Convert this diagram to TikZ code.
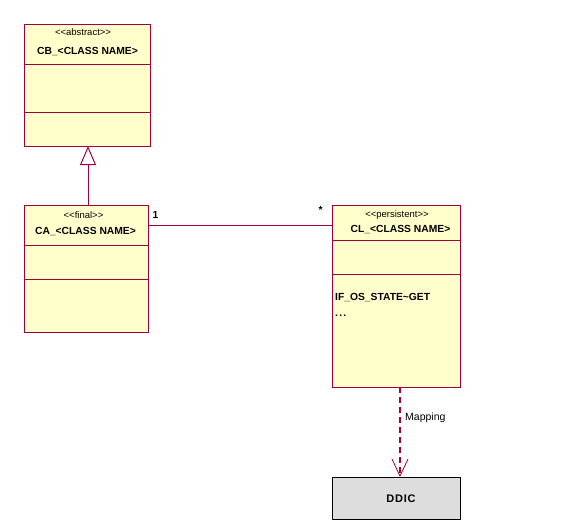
\documentclass[tikz,border=0pt]{standalone}
\usepackage{fontspec}
\setmainfont[Ligatures={TeXOff,NoCommon}]{Liberation Sans}
\usetikzlibrary{arrows.meta}
\definecolor{umlred}{RGB}{160,0,64}
\definecolor{umlfill}{RGB}{255,255,204}
\definecolor{ddicgray}{RGB}{221,221,221}
\begin{document}
\begin{tikzpicture}[x=1pt,y=-1pt,
  classbox/.style={draw=umlred,fill=umlfill,line width=1pt,anchor=north west,inner sep=0pt,minimum width=126pt},
  comp/.style={draw=umlred,line width=1pt},
  stereo/.style={font=\fontsize{9.5}{11}\selectfont,inner sep=0pt},
  cname/.style={font=\fontsize{10.3}{12}\selectfont\bfseries,inner sep=0pt},
  plain/.style={font=\fontsize{10.5}{12}\selectfont,inner sep=0pt},
  assoc/.style={draw=umlred,line width=1pt},
  ddicbox/.style={draw=black,fill=ddicgray,line width=1pt,anchor=north west,inner sep=0pt,minimum width=128pt,minimum height=42pt}]
\useasboundingbox (0,0) rectangle (575,527);
% CB class
\node[classbox,minimum height=122pt] (cb) at (24,24) {};
\draw[comp] (24,64) -- (150,64);
\draw[comp] (24,112) -- (150,112);
\node[stereo] (cbst) at (83,32) {<<abstract>>};
\node[cname] (cbn) at (87.5,51.5) {CB\_<CLASS NAME>};
% CA class
\node[classbox,minimum height=127pt,minimum width=124pt] (ca) at (24,205) {};
\draw[comp] (24,245.5) -- (148,245.5);
\draw[comp] (24,279) -- (148,279);
\node[stereo] (cast) at (83.5,215.5) {<<final>>};
\node[cname] (can) at (85.5,231.5) {CA\_<CLASS NAME>};
% CL class
\node[classbox,minimum height=182pt,minimum width=128pt] (cl) at (332,205) {};
\draw[comp] (332,240.5) -- (460,240.5);
\draw[comp] (332,274) -- (460,274);
\node[stereo] (clst) at (397,215.5) {<<persistent>>};
\node[cname] (cln) at (400.5,230) {CL\_<CLASS NAME>};
\node[cname,anchor=west] (op1) at (335,298) {IF\_OS\_STATE\textasciitilde GET};
\node[cname,anchor=west] (op2) at (335,316) {.\kern1.2pt.\kern1.2pt.};
% DDIC
\node[ddicbox] (ddic) at (332,477) {};
\node[cname,font=\fontsize{11}{13}\selectfont\bfseries] (ddict) at (401,499) {D\kern0.8pt D\kern0.8pt I\kern0.8pt C};
% generalization
\coordinate (g1) at (88,205);
\coordinate (g2) at (88,146);
\draw[assoc,-{Triangle[open,width=16pt,length=19pt,line width=1pt]}] (g1) -- (g2);
% association
\coordinate (a1) at (148,225);
\coordinate (a2) at (332,225);
\draw[assoc] (a1) -- (a2);
\node[cname] (m1) at (155.5,214.5) {1};
\node[cname] (m2) at (320.5,209.5) {*};
% dependency
\coordinate (d1) at (400,387);
\coordinate (d2) at (400,477);
\draw[draw=umlred,line width=2pt,dash pattern=on 6pt off 4pt,-{Straight Barb[open,width=16pt,length=17pt,line width=0.8pt]}] (d1) -- (d2);
\node[plain,anchor=west] (map) at (405,418) {Mapping};
\end{tikzpicture}
\end{document}
